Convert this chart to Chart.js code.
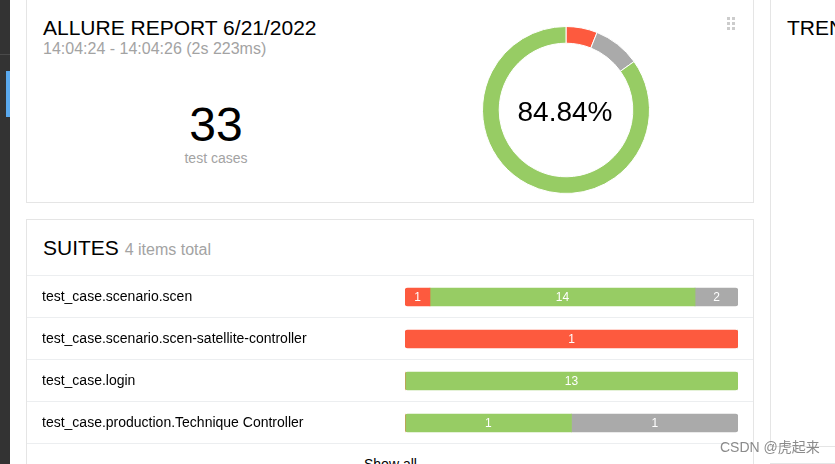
<!DOCTYPE html>
<html>
<head>
<meta charset="utf-8">
<script src="https://cdn.jsdelivr.net/npm/chart.js@4/dist/chart.umd.min.js"></script>
<style>
  html, body { margin: 0; padding: 0; background: #fff; }
  body { width: 835px; height: 464px; overflow: hidden; position: relative; font-family: "Liberation Sans", Arial, sans-serif; color: #000; }
  div, canvas, span { position: absolute; box-sizing: border-box; }
  span.inl { position: static; }
  .side { left: 0; top: 0; width: 10px; height: 464px; background: #333; }
  .side-line { left: 0; top: 54px; width: 10px; height: 1px; background: #4a4a4a; }
  .side-mark { left: 6px; top: 71px; width: 4px; height: 46px; background: #5aa9ee; }
  .card { border: 1px solid #e5e5e5; background: #fff; }
  .t { white-space: nowrap; }
  .row-line { left: 27px; width: 726px; height: 1px; background: #eceef0; }
  .dot { width: 3px; height: 3px; background: #ccc; }
</style>
</head>
<body>
<div class="side"></div><div class="side-line"></div><div class="side-mark"></div>

<div class="card" style="left:26px;top:-5px;width:728px;height:208px"></div>
<div class="t" style="left:43px;top:15px;font-size:21px;line-height:26px">ALLURE REPORT 6/21/2022</div>
<div class="t" style="left:43px;top:39px;font-size:16px;line-height:19px;color:#a3a3a3">14:04:24 - 14:04:26 (2s 223ms)</div>
<div class="t" style="left:116px;width:200px;text-align:center;top:97px;font-size:48px;line-height:56px">33</div>
<div class="t" style="left:116px;width:200px;text-align:center;top:150px;font-size:14px;line-height:16px;color:#a3a3a3">test cases</div>
<div class="dot" style="left:727px;top:17px"></div><div class="dot" style="left:732px;top:17px"></div>
<div class="dot" style="left:727px;top:22px"></div><div class="dot" style="left:732px;top:22px"></div>
<div class="dot" style="left:727px;top:27px"></div><div class="dot" style="left:732px;top:27px"></div>
<canvas id="donut" style="left:482px;top:26px"></canvas>
<div class="t" style="left:465px;width:200px;text-align:center;top:96px;font-size:28px;line-height:32px">84.84%</div>

<div class="card" style="left:26px;top:219px;width:728px;height:260px"></div>
<div class="t" style="left:43px;top:235px;font-size:21px;line-height:26px">SUITES <span class="inl" style="font-size:16px;color:#a3a3a3">4 items total</span></div>
<div class="row-line" style="top:275px"></div>
<div class="row-line" style="top:317px"></div>
<div class="row-line" style="top:359px"></div>
<div class="row-line" style="top:401px"></div>
<div class="row-line" style="top:443px"></div>
<canvas id="suites" style="left:27px;top:276px"></canvas>
<div class="t" style="left:364px;top:456px;font-size:14px;line-height:16px">Show all</div>

<div class="card" style="left:770px;top:-5px;width:80px;height:452px;border-bottom:0"></div>
<div style="left:770px;top:446px;width:65px;height:1px;background:#e5e5e5"></div>
<div style="left:770px;top:463px;width:65px;height:1px;background:#e5e5e5"></div>
<div class="t" style="left:787px;top:15px;font-size:21px;line-height:26px">TREND</div>
<div class="t" style="left:720px;top:439px;font-size:14px;line-height:16px;color:rgba(110,110,110,.8);font-family:'Liberation Sans','Noto Sans CJK SC',sans-serif">CSDN @虎起来</div>

<script>
Chart.defaults.font.family = '"Liberation Sans", Arial, sans-serif';

const statusLabels = ['failed', 'skipped', 'passed'];
const statusColors = ['#fd5a3e', '#aaaaaa', '#97cc64'];
const totalCounts = [2, 3, 28];

const suiteNames = [
  'test_case.scenario.scen',
  'test_case.scenario.scen-satellite-controller',
  'test_case.login',
  'test_case.production.Technique Controller'
];
// counts printed on the bars
const failedCounts = [1, 1, 0, 0];
const passedCounts = [14, 0, 13, 1];
const skippedCounts = [2, 0, 0, 1];
// drawn widths in percent (the report widens small segments)
const failedWidths = [7.5, 100, 0, 0];
const passedWidths = [79.6, 0, 100, 50];
const skippedWidths = [12.9, 0, 0, 50];

function setSize(id, w, h) {
  const c = document.getElementById(id);
  c.width = w; c.height = h;
  c.style.width = w + 'px'; c.style.height = h + 'px';
  return c.getContext('2d');
}

new Chart(setSize('donut', 168, 168), {
  type: 'doughnut',
  data: {
    labels: statusLabels,
    datasets: [{ data: totalCounts, backgroundColor: statusColors, borderColor: '#fff', borderWidth: 1 }]
  },
  options: {
    responsive: false,
    animation: false,
    cutout: '80%',
    plugins: { legend: { display: false }, tooltip: { enabled: false } }
  }
});

const counts = [failedCounts, passedCounts, skippedCounts];
const widths = [failedWidths, passedWidths, skippedWidths];
const orderColors = ['#fd5a3e', '#97cc64', '#aaaaaa'];
const orderLabels = ['failed', 'passed', 'skipped'];

function segmentRadius(ctx) {
  const i = ctx.dataIndex, d = ctx.datasetIndex;
  const before = widths.slice(0, d).some(s => s[i] > 0);
  const after = widths.slice(d + 1).some(s => s[i] > 0);
  const l = before ? 0 : 3, r = after ? 0 : 3;
  return { topLeft: l, bottomLeft: l, topRight: r, bottomRight: r };
}

const countLabels = {
  id: 'countLabels',
  afterDatasetsDraw(chart) {
    const c = chart.ctx;
    c.save();
    c.fillStyle = '#fff';
    c.font = '12px "Liberation Sans", Arial, sans-serif';
    c.textAlign = 'center';
    c.textBaseline = 'middle';
    counts.forEach((series, d) => {
      chart.getDatasetMeta(d).data.forEach((bar, i) => {
        if (series[i] > 0) c.fillText(series[i], bar.getCenterPoint().x, bar.y + 0.5);
      });
    });
    c.restore();
  }
};

new Chart(setSize('suites', 726, 168), {
  type: 'bar',
  data: {
    labels: suiteNames,
    datasets: widths.map((series, d) => ({
      label: orderLabels[d],
      data: series,
      backgroundColor: orderColors[d],
      borderRadius: segmentRadius,
      borderSkipped: false,
      barThickness: 18
    }))
  },
  options: {
    indexAxis: 'y',
    responsive: false,
    animation: false,
    layout: { padding: { right: 15, left: 15, top: 0, bottom: 0 } },
    scales: {
      x: { stacked: true, min: 0, max: 100, display: false },
      y: {
        stacked: true,
        grid: { display: false },
        border: { display: false },
        afterFit(axis) { axis.width = 363; axis.paddingTop = 0; axis.paddingBottom = 0; },
        ticks: { crossAlign: 'far', color: '#000', font: { size: 14 }, padding: 0, autoSkip: false }
      }
    },
    plugins: { legend: { display: false }, tooltip: { enabled: false } }
  },
  plugins: [countLabels]
});
</script>
</body>
</html>
